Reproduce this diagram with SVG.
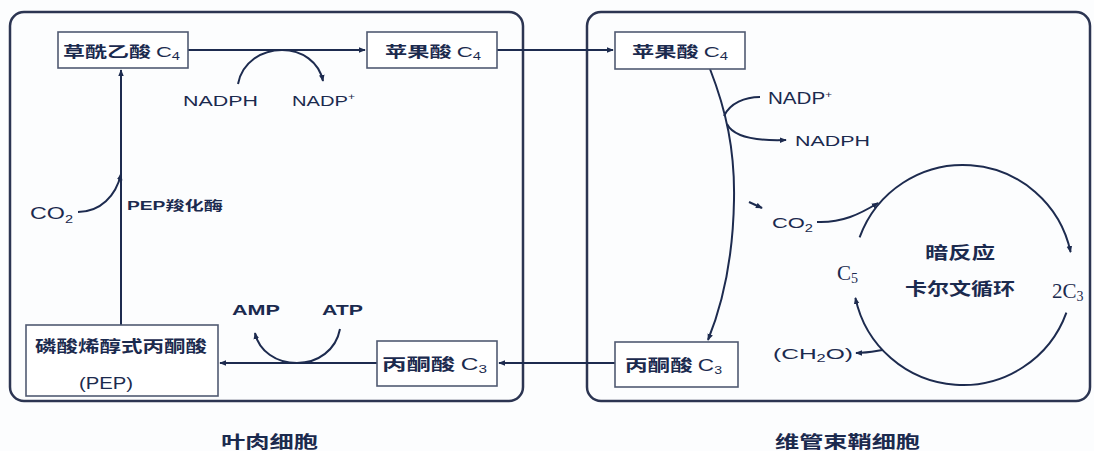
<svg xmlns="http://www.w3.org/2000/svg" width="1094" height="451" viewBox="0 0 1094 451">
<defs>
<marker id="ah" viewBox="0 0 8 8" refX="7" refY="4" markerWidth="7" markerHeight="7" markerUnits="userSpaceOnUse" orient="auto">
<path d="M0,0.8 L8,4 L0,7.2 z" fill="#1d2b4f"/>
</marker>
<style>
.cell{fill:none;stroke:#2c3552;stroke-width:2.5}
.box{fill:#ffffff;stroke:#505a72;stroke-width:1.6}
.ln{fill:none;stroke:#1d2b4f;stroke-width:2}
.t{font-family:"Liberation Sans","Noto Sans CJK SC",sans-serif;fill:#1b2a4e}
.cj{font-family:"Noto Sans CJK SC","Liberation Sans",sans-serif;font-weight:bold;fill:#1b2a4e}
.sf{font-family:"Liberation Serif","Noto Sans CJK SC",serif;fill:#1b2a4e}
</style>
</defs>
<rect x="0" y="0" width="1094" height="451" fill="#fcfdfe"/>
<g id="mesophyll-cell"><rect class="cell" x="10" y="12" width="513" height="389" rx="14"/></g>
<g id="bundle-sheath-cell"><rect class="cell" x="587" y="12" width="503" height="389" rx="14"/></g>

<g id="connectors">
<path class="ln" d="M188,50 L365,50" marker-end="url(#ah)"/>
<path class="ln" d="M238,84 C242,62 262,50 282,50 C302,50 319,62 323,81" marker-end="url(#ah)"/>
<path class="ln" d="M497,50 L613,50" marker-end="url(#ah)"/>
<path class="ln" d="M121,325 L121,70" marker-end="url(#ah)"/>
<path class="ln" d="M78,212 C100,212 116,196 121,174" marker-end="url(#ah)"/>
<path class="ln" d="M615,363 L499,363" marker-end="url(#ah)"/>
<path class="ln" d="M377,363 L220,363" marker-end="url(#ah)"/>
<path class="ln" d="M340,329 C336,350 318,363 297,363 C276,363 259,351 255,333" marker-end="url(#ah)"/>
<path class="ln" d="M710,69 C726,110 735,150 734,200 C733,262 721,308 708,340" marker-end="url(#ah)"/>
<path class="ln" d="M724,116 C730,103 745,97 760,97"/>
<path class="ln" d="M727,124 C734,138 758,141 786,140" marker-end="url(#ah)"/>
<path class="ln" d="M749,202 L762,208" marker-end="url(#ah)"/>
<path class="ln" d="M817,222 C842,223 860,214 878,203" marker-end="url(#ah)"/>
<path class="ln" d="M859.6,237.4 A110,110 0 0 1 1070.6,252.1" marker-end="url(#ah)"/>
<path class="ln" d="M1066.4,312.6 A110,110 0 0 1 855.4,297.9" marker-end="url(#ah)"/>
<path class="ln" d="M883,350 C876,351 868,353 856,353" marker-end="url(#ah)"/>
</g>

<g id="oxaloacetate">
<rect class="box" x="58" y="32" width="130" height="36"/>
<text class="cj" x="63" y="57" font-size="15" textLength="117" lengthAdjust="spacingAndGlyphs">草酰乙酸 <tspan class="t" font-weight="normal" fill="#4a5570">C</tspan><tspan class="t" font-weight="normal" font-size="10" dy="3" fill="#4a5570">4</tspan></text>
</g>
<g id="malate-m">
<rect class="box" x="367" y="32" width="130" height="36"/>
<text class="cj" x="385" y="57" font-size="15" textLength="96" lengthAdjust="spacingAndGlyphs">苹果酸 <tspan class="t" font-weight="normal" fill="#4a5570">C</tspan><tspan class="t" font-weight="normal" font-size="10" dy="3" fill="#4a5570">4</tspan></text>
</g>
<g id="malate-b">
<rect class="box" x="615" y="32" width="130" height="37"/>
<text class="cj" x="632" y="57" font-size="15" textLength="96" lengthAdjust="spacingAndGlyphs">苹果酸 <tspan class="t" font-weight="normal" fill="#4a5570">C</tspan><tspan class="t" font-weight="normal" font-size="10" dy="3" fill="#4a5570">4</tspan></text>
</g>
<g id="pep">
<rect class="box" x="26" y="325" width="192" height="71"/>
<text class="cj" x="35" y="352" font-size="16" textLength="172" lengthAdjust="spacingAndGlyphs">磷酸烯醇式丙酮酸</text>
<text class="t" x="79" y="389" font-size="16" textLength="54" lengthAdjust="spacingAndGlyphs">(PEP)</text>
</g>
<g id="pyruvate-m">
<rect class="box" x="377" y="341" width="120" height="45"/>
<text class="cj" x="382" y="370" font-size="16" textLength="105" lengthAdjust="spacingAndGlyphs">丙酮酸 <tspan class="t" font-weight="normal" fill="#4a5570">C</tspan><tspan class="t" font-weight="normal" font-size="10" dy="3" fill="#4a5570">3</tspan></text>
</g>
<g id="pyruvate-b">
<rect class="box" x="615" y="342" width="123" height="45"/>
<text class="cj" x="625" y="371" font-size="16" textLength="97" lengthAdjust="spacingAndGlyphs">丙酮酸 <tspan class="t" font-weight="normal" fill="#4a5570">C</tspan><tspan class="t" font-weight="normal" font-size="10" dy="3" fill="#4a5570">3</tspan></text>
</g>

<g id="labels-m">
<text class="t" x="183" y="106" font-size="15" textLength="75" lengthAdjust="spacingAndGlyphs">NADPH</text>
<text class="t" x="292" y="106" font-size="15" textLength="63" lengthAdjust="spacingAndGlyphs">NADP<tspan font-size="9" dy="-6">+</tspan></text>
<text class="t" x="30" y="219" font-size="16" fill="#4a5570" textLength="43" lengthAdjust="spacingAndGlyphs">CO<tspan font-size="10" dy="4">2</tspan></text>
<text class="t" x="127" y="210" font-size="13" font-weight="bold" textLength="96" lengthAdjust="spacingAndGlyphs">PEP羧化酶</text>
<text class="t" x="232" y="315" font-size="15" font-weight="bold" textLength="48" lengthAdjust="spacingAndGlyphs">AMP</text>
<text class="t" x="322" y="315" font-size="15" font-weight="bold" textLength="41" lengthAdjust="spacingAndGlyphs">ATP</text>
<text class="cj" x="221" y="448" font-size="17" textLength="97" lengthAdjust="spacingAndGlyphs">叶肉细胞</text>
</g>

<g id="labels-b">
<text class="t" x="768" y="104" font-size="16" textLength="64" lengthAdjust="spacingAndGlyphs">NADP<tspan font-size="9" dy="-6">+</tspan></text>
<text class="t" x="795" y="146" font-size="15" textLength="75" lengthAdjust="spacingAndGlyphs">NADPH</text>
<text class="t" x="772" y="228" font-size="15" fill="#3d4a6a" textLength="41" lengthAdjust="spacingAndGlyphs">CO<tspan font-size="10" dy="4">2</tspan></text>
<text class="cj" x="925" y="259" font-size="17" textLength="70" lengthAdjust="spacingAndGlyphs">暗反应</text>
<text class="cj" x="905" y="295" font-size="17" textLength="110" lengthAdjust="spacingAndGlyphs">卡尔文循环</text>
<text class="sf" x="837" y="280" font-size="21">C<tspan font-size="14" dy="3">5</tspan></text>
<text class="sf" x="1052" y="298" font-size="21">2C<tspan font-size="14" dy="3">3</tspan></text>
<text class="t" x="773" y="359" font-size="15" textLength="80" lengthAdjust="spacingAndGlyphs">(CH<tspan font-size="10" dy="3">2</tspan><tspan dy="-3">O)</tspan></text>
<text class="cj" x="775" y="448" font-size="17" textLength="145" lengthAdjust="spacingAndGlyphs">维管束鞘细胞</text>
</g>
</svg>
